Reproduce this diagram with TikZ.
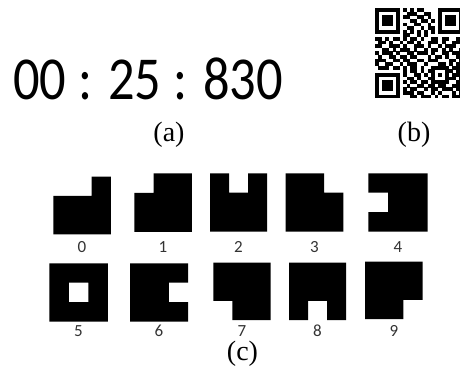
\documentclass[tikz,border=0pt]{standalone}
\usepackage{fontspec}
\setmainfont{Liberation Serif}
\newfontfamily\digitfont{Carlito}

\begin{document}
\begin{tikzpicture}[x=1pt, y=-1pt,
		glyph/.style={fill=black},
		modul/.style={fill=black},
		digit/.style={font=\digitfont\fontsize{17}{17}\selectfont, inner sep=0pt, anchor=base, text=black!80},
		caption/.style={font=\fontsize{28}{28}\selectfont, inner sep=0pt}]
			\useasboundingbox[fill=white] (0,0) rectangle (460,374);
			
			% timer
			\node[font=\digitfont\fontsize{61}{61}\selectfont, inner sep=0pt, xscale=0.86] (timer) at (148,78.5) {00 : 25 : 830};
			
			% qr code
			\begin{scope}
			\clip (0,0) rectangle (460,374);
			\foreach \row [count=\r from 0] in {
				{1,1,1,1,1,1,1,0,1,0,1,0,1,1,0,0,0,0,1,1,1,1,1,1,1},
				{1,0,0,0,0,0,1,0,0,1,1,1,0,0,1,1,0,0,1,0,0,0,0,0,1},
				{1,0,1,1,1,0,1,0,1,1,0,0,1,1,0,1,0,0,1,0,1,1,1,0,1},
				{1,0,1,1,1,0,1,0,0,0,1,1,0,1,1,0,1,0,1,0,1,1,1,0,1},
				{1,0,1,1,1,0,1,0,1,0,0,1,1,0,0,1,0,0,1,0,1,1,1,0,1},
				{1,0,0,0,0,0,1,0,0,1,1,0,0,1,0,1,1,0,1,0,0,0,0,0,1},
				{1,1,1,1,1,1,1,0,1,0,1,0,1,0,1,0,1,0,1,1,1,1,1,1,1},
				{0,0,0,0,0,0,0,0,1,1,0,0,1,0,1,0,0,0,0,0,0,0,0,0,0},
				{1,1,0,1,0,1,1,0,1,0,1,1,0,1,0,0,1,1,0,1,1,0,0,1,0},
				{0,1,1,0,1,0,0,1,0,1,1,0,1,0,0,1,1,1,0,1,0,0,1,1,0},
				{1,1,0,0,1,1,1,0,1,0,0,1,1,1,0,1,0,0,1,0,1,1,1,0,0},
				{0,0,1,1,0,1,0,1,1,1,0,1,0,0,1,0,1,1,0,1,0,1,0,0,1},
				{1,0,1,1,1,0,1,0,0,1,1,0,1,1,1,0,1,0,0,1,1,0,1,1,0},
				{0,1,0,0,1,1,0,1,1,0,1,1,0,0,0,1,0,1,1,0,1,0,0,1,1},
				{1,1,1,0,0,1,1,0,1,1,0,0,1,1,0,1,1,1,0,0,0,1,1,0,1},
				{1,0,0,1,1,0,0,1,0,1,1,1,0,0,1,0,0,0,1,1,0,1,0,1,0},
				{0,1,1,1,0,1,1,0,1,0,1,1,0,1,0,0,1,1,1,1,1,0,1,1,0},
				{0,0,0,0,0,0,0,0,1,0,1,1,0,1,0,1,1,0,0,0,1,1,0,1,1},
				{1,1,1,1,1,1,1,0,1,0,0,1,1,0,1,0,1,0,1,0,1,0,1,1,0},
				{1,0,0,0,0,0,1,0,0,1,1,0,1,0,0,1,1,0,0,0,1,1,1,0,1},
				{1,0,1,1,1,0,1,0,1,0,1,1,0,1,1,0,1,1,1,1,1,0,0,1,1},
				{1,0,1,1,1,0,1,0,0,1,0,0,1,1,0,1,1,0,1,1,0,0,1,1,0},
				{1,0,1,1,1,0,1,0,1,0,1,1,0,0,1,0,1,1,0,1,1,1,0,1,1},
				{1,0,0,0,0,0,1,0,1,1,1,0,1,1,0,0,1,0,1,0,0,0,1,0,1},
				{1,1,1,1,1,1,1,0,0,0,1,1,0,1,1,1,0,1,0,1,1,0,1,1,0}}{
				\foreach \b [count=\c from 0] in \row {
					\ifnum\b=1 \fill[modul] (375+3.52*\c-0.1, 8.3+3.6*\r-0.1) rectangle ++(3.72,3.8); \fi
				}
			}
			\end{scope}
			
			% glyphs 0-4
			\fill[glyph, shift={(53.3,176.7)}, x=19.2pt, y=-19.2pt] (2,0) -- (3,0) -- (3,3) -- (0,3) -- (0,1) -- (2,1) -- cycle;
			\fill[glyph, shift={(134.3,173.3)}, x=19.2pt, y=-19.5pt] (1,0) -- (3,0) -- (3,3) -- (0,3) -- (0,1) -- (1,1) -- cycle;
			\fill[glyph, shift={(210,173.3)}, x=19pt, y=-19.4pt] (0,0) -- (1,0) -- (1,1) -- (2,1) -- (2,0) -- (3,0) -- (3,3) -- (0,3) -- cycle;
			\fill[glyph, shift={(285.7,173.3)}, x=19.2pt, y=-19.4pt] (0,0) -- (2,0) -- (2,1) -- (3,1) -- (3,3) -- (0,3) -- cycle;
			\fill[glyph, shift={(368.3,173.3)}, x=19.8pt, y=-19.4pt] (0,0) -- (3,0) -- (3,3) -- (0,3) -- (0,2) -- (1,2) -- (1,1) -- (0,1) -- cycle;
			
			% glyphs 5-9
			\fill[glyph, even odd rule, shift={(49.3,263.3)}, x=19.5pt, y=-19.4pt] (0,0) rectangle (3,3) (1,1) rectangle (2,2);
			\fill[glyph, shift={(130,263.3)}, x=19.4pt, y=-19.4pt] (0,0) -- (3,0) -- (3,1) -- (2,1) -- (2,2) -- (3,2) -- (3,3) -- (0,3) -- cycle;
			\fill[glyph, shift={(213.3,262.7)}, x=19.1pt, y=-19.1pt] (0,0) -- (3,0) -- (3,3) -- (1,3) -- (1,2) -- (0,2) -- cycle;
			\fill[glyph, shift={(289,262.7)}, x=19pt, y=-19.1pt] (0,0) -- (3,0) -- (3,3) -- (2,3) -- (2,2) -- (1,2) -- (1,3) -- (0,3) -- cycle;
			\fill[glyph, shift={(365,261.7)}, x=19.2pt, y=-19.1pt] (0,0) -- (3,0) -- (3,2) -- (2,2) -- (2,3) -- (0,3) -- cycle;
			
			% digit labels
			\node[digit] (n0) at (82,252) {0};
			\node[digit] (n1) at (163,252) {1};
			\node[digit] (n2) at (238.5,252) {2};
			\node[digit] (n3) at (314.5,252) {3};
			\node[digit] (n4) at (398,252) {4};
			\node[digit] (n5) at (78.5,336) {5};
			\node[digit] (n6) at (159,336) {6};
			\node[digit] (n7) at (242,336) {7};
			\node[digit] (n8) at (317.5,336) {8};
			\node[digit] (n9) at (394,336) {9};
			
			% captions
			\node[caption] (capa) at (169,135) {(a)};
			\node[caption] (capb) at (414,135) {(b)};
			\node[caption] (capc) at (242.5,354) {(c)};
		\end{tikzpicture}
\end{document}
